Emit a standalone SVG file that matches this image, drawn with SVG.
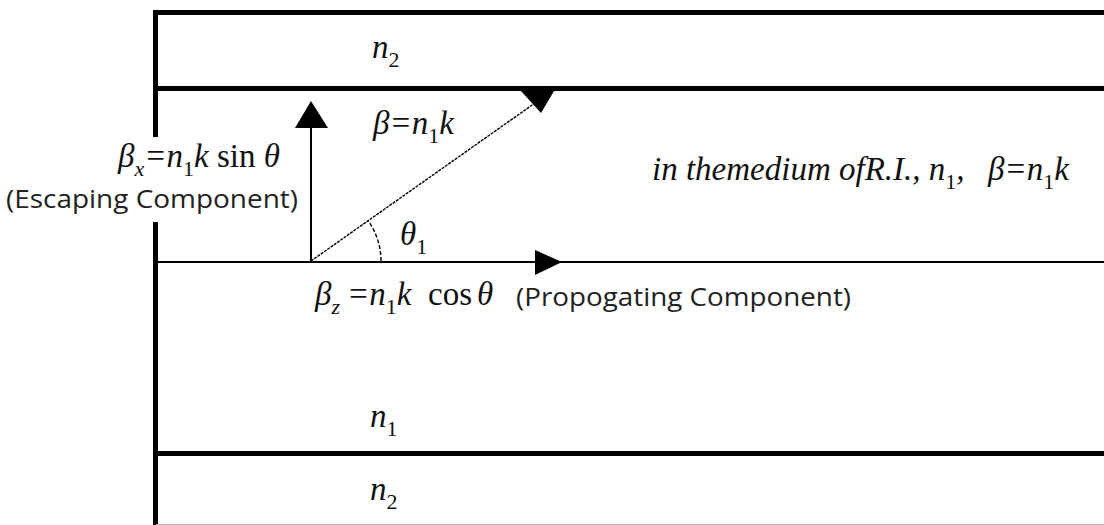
<svg xmlns="http://www.w3.org/2000/svg" width="1104" height="525" viewBox="0 0 1104 525">
<style>
.thick{stroke:#000;stroke-width:5;fill:none}
.thin{stroke:#000;stroke-width:2;fill:none}
.ray{stroke:#000;stroke-width:1.4;fill:none;stroke-dasharray:3 1}
.arc{stroke:#000;stroke-width:1.4;fill:none;stroke-dasharray:4 2}
.head{fill:#000}
.m{font-family:"Liberation Serif","Times New Roman",serif;font-style:italic;font-size:33px;fill:#111}
.r{font-family:"Liberation Serif","Times New Roman",serif;font-style:normal}
.s{font-size:22px}
.d{font-size:22px;font-style:normal}
.t{font-family:"Open Sans","Liberation Sans",Arial,sans-serif;font-size:25px;fill:#222}
</style>
<rect width="1104" height="525" fill="#fff"/>
<g id="layers">
  <line class="thick" x1="153" y1="12.5" x2="1104" y2="12.5"/>
  <line class="thick" x1="153" y1="88.5" x2="1104" y2="88.5"/>
  <line class="thin" x1="156" y1="262" x2="1104" y2="262"/>
  <line class="thick" x1="153" y1="453.5" x2="1104" y2="453.5"/>
  <line class="thick" x1="155.5" y1="10" x2="155.5" y2="137"/>
  <line class="thick" x1="155.5" y1="222" x2="155.5" y2="525"/>
  <line x1="156" y1="524.5" x2="1104" y2="524.5" stroke="#bbb" stroke-width="1"/>
</g>
<g id="connectors">
  <line class="thin" x1="311" y1="262" x2="311" y2="118"/>
  <polygon class="head" points="311,101 295,128 328,128"/>
  <line class="ray" x1="311" y1="261" x2="535" y2="103"/>
  <polygon class="head" points="521,91 554,91 541,113"/>
  <polygon class="head" points="562,262 535,250 535,275"/>
  <path class="arc" d="M381,261 A70,70 0 0 0 368.1,220.6"/>
</g>
<g id="label-n2-top"><text class="m" x="372" y="58">n<tspan class="d" dy="9">2</tspan></text></g>
<g id="label-beta"><text class="m" x="373" y="134">β=n<tspan class="d" dy="9">1</tspan><tspan dy="-9">k</tspan></text></g>
<g id="label-beta-x">
  <text class="m" x="118" y="167">β<tspan class="s" dy="9">x</tspan><tspan dy="-9">=n</tspan><tspan class="d" dy="9">1</tspan><tspan dy="-9">k </tspan><tspan class="r">sin</tspan> θ</text>
  <text class="t" x="6" y="208" textLength="292" lengthAdjust="spacingAndGlyphs">(Escaping Component)</text>
</g>
<g id="label-theta"><text class="m" x="400" y="245">θ<tspan class="d" dy="9">1</tspan></text></g>
<g id="label-beta-z">
  <text class="m" x="315" y="305">β<tspan class="s" dy="9">z</tspan><tspan x="347" dy="-9">=n</tspan><tspan class="d" dy="9">1</tspan><tspan dy="-9">k</tspan><tspan class="r" x="428" textLength="44" lengthAdjust="spacingAndGlyphs">cos</tspan><tspan x="477">θ</tspan></text>
  <text class="t" x="516" y="306" textLength="335" lengthAdjust="spacingAndGlyphs">(Propogating Component)</text>
</g>
<g id="label-medium"><text class="m" x="652" y="180">in themedium ofR.I., n<tspan class="d" dy="9">1</tspan><tspan dy="-9">,</tspan><tspan x="988">β=n</tspan><tspan class="d" dy="9">1</tspan><tspan dy="-9">k</tspan></text></g>
<g id="label-n1"><text class="m" x="370" y="427">n<tspan class="d" dy="9">1</tspan></text></g>
<g id="label-n2-bottom"><text class="m" x="370" y="500">n<tspan class="d" dy="9">2</tspan></text></g>
</svg>
